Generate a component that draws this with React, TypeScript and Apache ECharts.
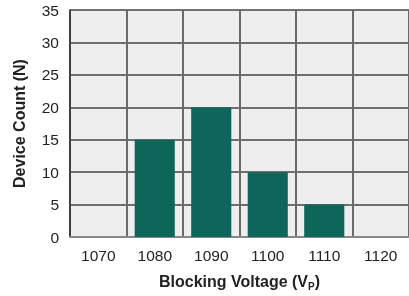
import React, { useEffect, useRef } from "react";
import * as echarts from "echarts";

const categories = ["1070", "1080", "1090", "1100", "1110", "1120"];
const deviceCounts = [0, 15, 20, 10, 5, 0];
const yMin = 0;
const yMax = 35;
const yInterval = 5;

export default function App() {
  const ref = useRef<HTMLDivElement>(null);
  useEffect(() => {
    if (!ref.current) return;
    const chart = echarts.init(ref.current, null, { renderer: "svg" });
    const font = "'Liberation Sans', Arial, sans-serif";
    chart.setOption({
      animation: false,
      grid: { left: 70, top: 10, width: 345.6, height: 232, backgroundColor: "#eeeeee", show: true, borderWidth: 0 },
      xAxis: {
        type: "category",
        data: categories,
        name: "Blocking Voltage (V{sub|P})",
        nameLocation: "middle",
        nameGap: 35,
        nameTextStyle: {
          fontFamily: font, fontSize: 16, fontWeight: "bold", color: "#222",
          rich: { sub: { fontFamily: font, fontSize: 10, fontWeight: "bold", color: "#222", verticalAlign: "bottom", padding: [9, 0, 0, 0] } },
        },
        axisLine: { lineStyle: { color: "#888", width: 2 } },
        axisTick: { show: false },
        axisLabel: { fontFamily: font, fontSize: 15.5, color: "#222", margin: 10 },
        splitLine: { show: true, lineStyle: { color: "#6a6a6a", width: 2 } },
      },
      yAxis: {
        type: "value",
        min: yMin,
        max: yMax,
        interval: yInterval,
        name: "Device Count (N)",
        nameLocation: "middle",
        nameGap: 43,
        nameTextStyle: { fontFamily: font, fontSize: 16, fontWeight: "bold", color: "#222" },
        axisLine: { show: true, lineStyle: { color: "#333", width: 1.5 } },
        axisTick: { show: false },
        axisLabel: { fontFamily: font, fontSize: 15.5, color: "#222", margin: 11 },
        splitLine: { show: true, lineStyle: { color: "#444", width: 1.5 } },
      },
      series: [
        {
          type: "bar",
          data: deviceCounts,
          barWidth: "71%",
          itemStyle: { color: "#0e655a" },
          z: 3,
        },
      ],
    });
    return () => chart.dispose();
  }, []);
  return <div ref={ref} style={{ position: "fixed", left: 0, top: 0, width: 409, height: 296 }} />;
}
